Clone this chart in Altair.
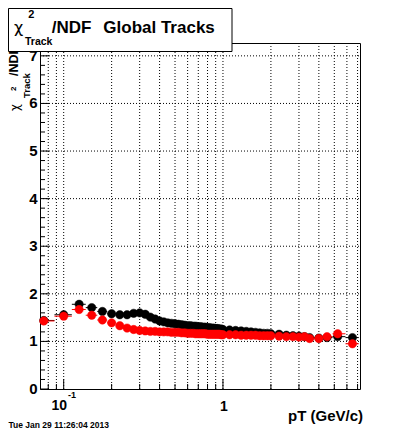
import altair as alt
import pandas as pd

# ---------------- data ----------------
pt = [0.075, 0.1, 0.125, 0.15, 0.175, 0.2, 0.225, 0.25, 0.275, 0.3,
      0.325, 0.35, 0.375, 0.4, 0.425, 0.45, 0.475, 0.5, 0.525, 0.55,
      0.575, 0.6, 0.625, 0.65, 0.675, 0.7, 0.725, 0.75, 0.775, 0.8,
      0.825, 0.85, 0.875, 0.9, 0.925, 0.95, 0.975, 1.0,
      1.1, 1.2, 1.3, 1.4, 1.5, 1.6, 1.7, 1.8, 1.9, 2.0,
      2.25, 2.5, 2.75, 3.0, 3.25, 3.5, 4.0, 4.5, 5.25, 6.5]

chi2_black = [1.44, 1.56, 1.78, 1.71, 1.63, 1.58, 1.56, 1.56, 1.59, 1.60,
              1.57, 1.51, 1.47, 1.43, 1.41, 1.39, 1.38, 1.37, 1.36, 1.35,
              1.34, 1.33, 1.33, 1.32, 1.32, 1.31, 1.31, 1.30, 1.30, 1.29,
              1.29, 1.28, 1.28, 1.27, 1.27, 1.26, 1.26, 1.25,
              1.24, 1.23, 1.22, 1.21, 1.20, 1.19, 1.18, 1.17, 1.17, 1.16,
              1.15, 1.13, 1.12, 1.11, 1.10, 1.08, 1.07, 1.08, 1.10, 1.08]

chi2_red = [1.43, 1.53, 1.67, 1.55, 1.45, 1.39, 1.33, 1.28, 1.25, 1.23,
            1.22, 1.21, 1.21, 1.20, 1.20, 1.20, 1.19, 1.19, 1.19, 1.18,
            1.18, 1.17, 1.17, 1.17, 1.16, 1.16, 1.16, 1.16, 1.16, 1.15,
            1.15, 1.15, 1.15, 1.15, 1.15, 1.15, 1.14, 1.14,
            1.14, 1.14, 1.13, 1.13, 1.13, 1.13, 1.12, 1.12, 1.12, 1.12,
            1.11, 1.10, 1.10, 1.09, 1.10, 1.06, 1.06, 1.10, 1.16, 0.95]

x_major_ticks = [0.1, 1]
x_minor_ticks = [0.08, 0.09, 0.2, 0.3, 0.4, 0.5, 0.6, 0.7, 0.8, 0.9,
                 2, 3, 4, 5, 6, 7]
x_grid = [0.08, 0.09, 0.1, 0.2, 0.3, 0.4, 0.5, 0.6, 0.7, 0.8, 0.9,
          1, 2, 3, 4, 5, 6, 7]
y_major_ticks = [0, 1, 2, 3, 4, 5, 6, 7]
y_minor_ticks = [round(i * 0.2, 1) for i in range(37) if i % 5 != 0]
y_grid = [1, 2, 3, 4, 5, 6, 7]

# ---------------- build tables ----------------
def bin_edges(xs):
    lo, hi = [], []
    n = len(xs)
    for i in range(n):
        h = (xs[i] + xs[i + 1]) / 2 if i < n - 1 else None
        l = (xs[i - 1] + xs[i]) / 2 if i > 0 else None
        if l is None:
            l = xs[i] - (h - xs[i])
        if h is None:
            h = xs[i] + (xs[i] - l)
        lo.append(l)
        hi.append(h)
    return lo, hi

lo, hi = bin_edges(pt)
df_black = pd.DataFrame({"pt": pt, "chi2": chi2_black, "lo": lo, "hi": hi})
df_red = pd.DataFrame({"pt": pt, "chi2": chi2_red, "lo": lo, "hi": hi})

W, H = 320, 346
xscale = alt.Scale(type="log", domain=[0.071, 7.25], nice=False)
yscale = alt.Scale(domain=[0, 7.27], nice=False, zero=False)
FONT = "Liberation Sans"
dummy = pd.DataFrame({"d": [0]})

X = lambda f: alt.X(f, type="quantitative", scale=xscale, axis=None)
Y = lambda f: alt.Y(f, type="quantitative", scale=yscale, axis=None)

# grid
vgrid = alt.Chart(pd.DataFrame({"v": x_grid})).mark_rule(
    color="black", strokeWidth=1, strokeDash=[1, 2]).encode(
    x=X("v"), y=alt.value(0), y2=alt.value(H))
hgrid = alt.Chart(pd.DataFrame({"v": y_grid})).mark_rule(
    color="black", strokeWidth=1, strokeDash=[1, 2]).encode(
    y=Y("v"), x=alt.value(0), x2=alt.value(W))

# ticks (inward)
xmaj = alt.Chart(pd.DataFrame({"v": x_major_ticks})).mark_rule(color="black").encode(
    x=X("v"), y=alt.value(H), y2=alt.value(H - 10))
xmin = alt.Chart(pd.DataFrame({"v": x_minor_ticks})).mark_rule(color="black").encode(
    x=X("v"), y=alt.value(H), y2=alt.value(H - 5))
ymaj = alt.Chart(pd.DataFrame({"v": y_major_ticks})).mark_rule(color="black").encode(
    y=Y("v"), x=alt.value(0), x2=alt.value(9))
ymin = alt.Chart(pd.DataFrame({"v": y_minor_ticks})).mark_rule(color="black").encode(
    y=Y("v"), x=alt.value(0), x2=alt.value(5))

# y tick labels
ylab = alt.Chart(pd.DataFrame({"v": y_major_ticks})).mark_text(
    font=FONT, fontWeight="bold", fontSize=15, align="right", baseline="middle",
    color="black").encode(y=Y("v"), x=alt.value(-2.5), text=alt.Text("v:Q"))

# data series
def series(df, color):
    bars = alt.Chart(df).mark_rule(color=color, strokeWidth=1, clip=True).encode(
        x=X("lo"), x2="hi", y=Y("chi2"))
    pts = alt.Chart(df).mark_circle(color=color, opacity=1, size=70,
                                    stroke=color, strokeWidth=0.5).encode(
        x=X("pt"), y=Y("chi2"))
    return [bars, pts]

def txt(s, x, y, size, weight="bold", align="left", baseline="alphabetic", angle=0, font=FONT):
    kw = dict(text=s, font=font, fontSize=size, fontWeight=weight, align=align,
              baseline=baseline, color="black")
    if angle:
        kw["angle"] = angle
    return alt.Chart(dummy).mark_text(**kw).encode(x=alt.value(x), y=alt.value(y))

# x labels and title (plot coords = page - (40, 43))
xl = [
    txt("10", 11.5, 367, 14),
    txt("-1", 28, 355, 9),
    txt("1", 184, 367.5, 14, align="center"),
    txt("pT (GeV/c)", 323, 378, 15, align="right"),
    txt("Tue Jan 29 11:26:04 2013", -31.5, 384.5, 8.5),
]

# y axis title (rotated, reading upward)
yt = [
    txt("/NDF", -22.0, 33, 12.5, angle=270),
    txt("Track", -10, 55, 9.5, angle=270),
    txt("\u03c7", -21.5, 68, 12, weight="normal", angle=270, font="DejaVu Sans"),
    txt("2", -24.5, 48, 8, angle=270),
]

# title box
box = alt.Chart(dummy).mark_rect(fill="white", stroke="black", strokeWidth=1).encode(
    x=alt.value(-31.5), x2=alt.value(192), y=alt.value(-34.5), y2=alt.value(8.5))
tt = [
    txt("\u03c7", -26, -10.5, 16, weight="normal", font="DejaVu Sans"),
    txt("2", -11.7, -24.7, 11),
    txt("Track", -15, 2, 10.5),
    txt("/NDF", 11.7, -9.7, 17),
    txt("Global Tracks", 63.3, -9.7, 17),
]

layers = [vgrid, hgrid, xmaj, xmin, ymaj, ymin, ylab]
layers += series(df_black, "#000000")
layers += series(df_red, "#ff0000")
layers += xl + yt + [box] + tt

chart = alt.layer(*layers).properties(
    width=W, height=H,
    autosize=alt.AutoSizeParams(type="none"),
    padding={"left": 32, "top": 35, "right": 30, "bottom": 42},
    background="white",
).configure_view(stroke="black", strokeWidth=1)

chart.save("out.html", embed_options={"renderer": "svg", "actions": False})
